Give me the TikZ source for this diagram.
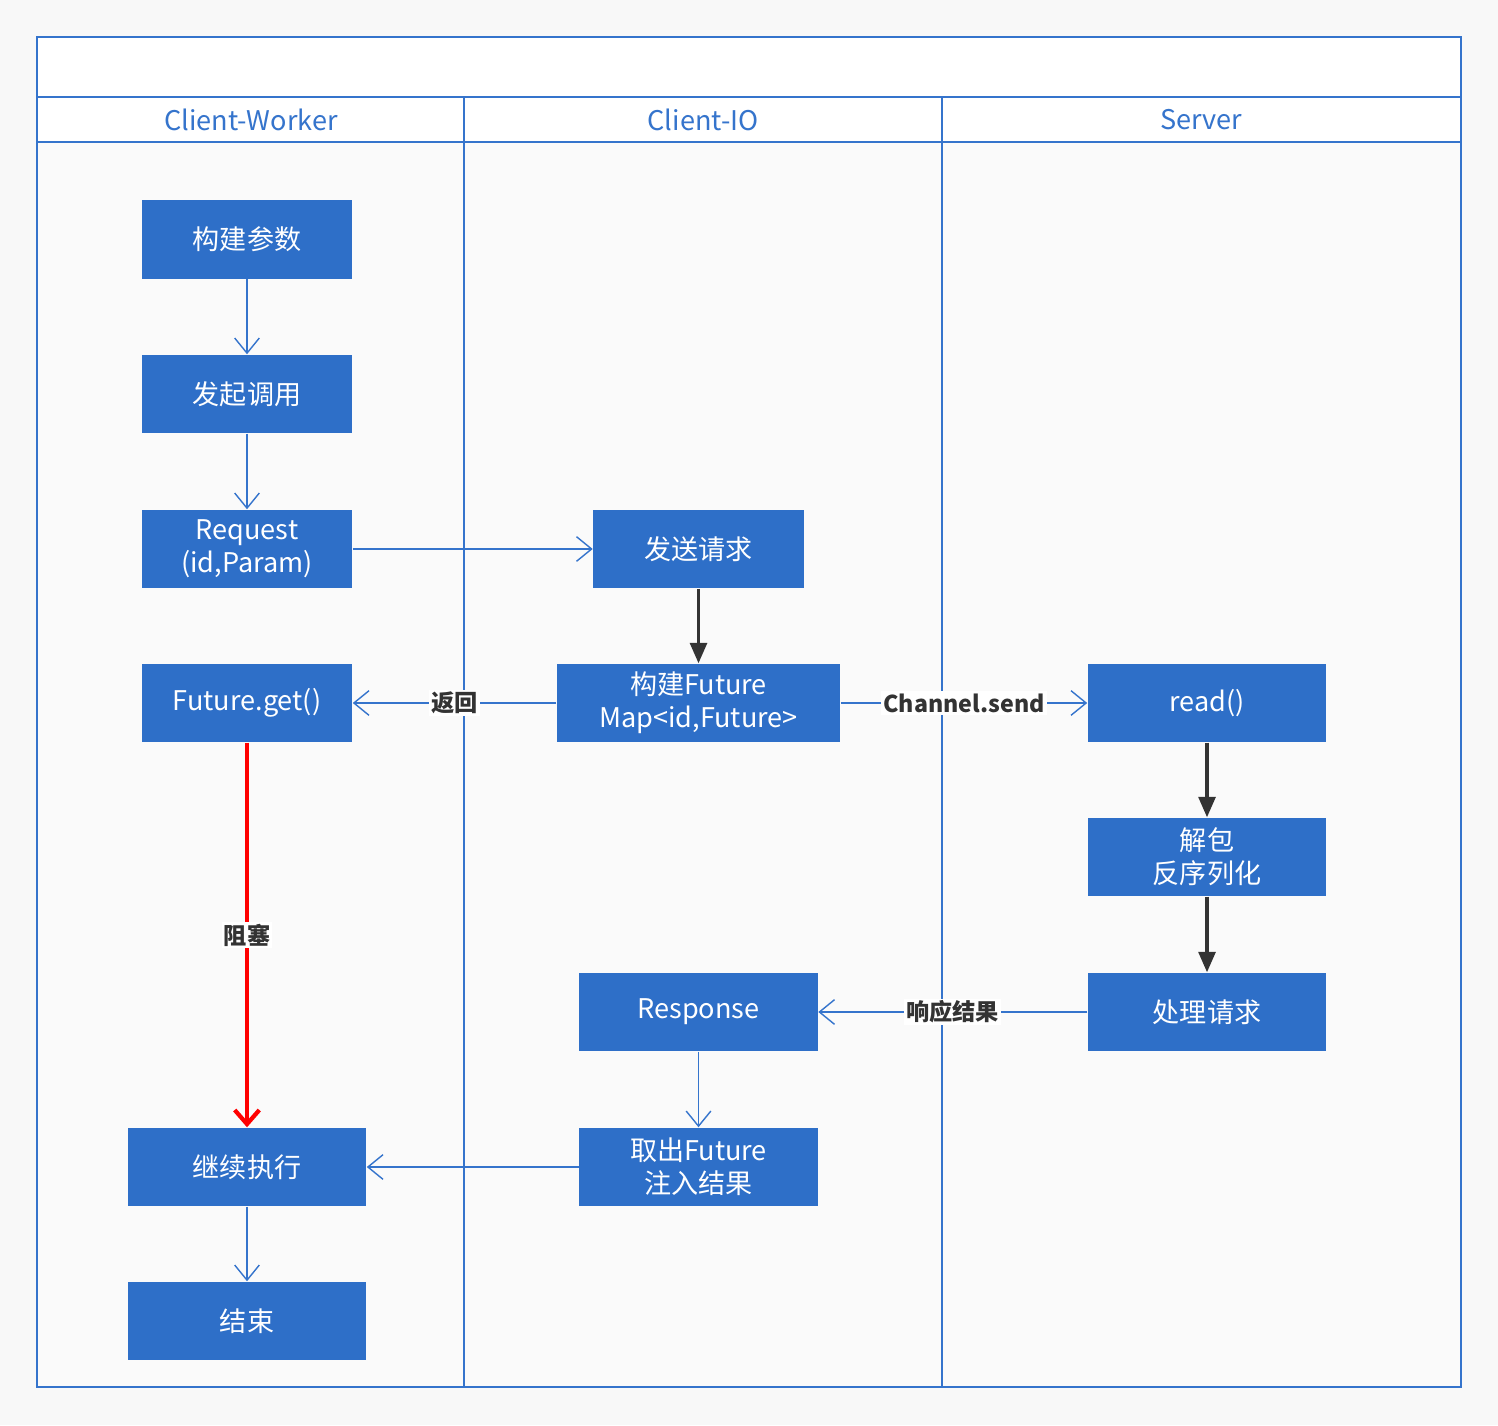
\documentclass[tikz,border=0pt]{standalone}
\usepackage{fontspec}
\setmainfont{Noto Sans CJK SC}
\usetikzlibrary{arrows.meta}
\definecolor{laneBlue}{HTML}{3574CC}
\definecolor{boxBlue}{HTML}{2E6FC8}
\definecolor{pageGray}{HTML}{F8F8F8}
\definecolor{laneGray}{HTML}{FAFAFA}
\definecolor{darkArrow}{HTML}{333333}
\definecolor{blockRed}{HTML}{FF0000}

\begin{document}
\begin{tikzpicture}[x=0.01cm, y=-0.01cm,
  box/.style={fill=boxBlue, text=white, minimum width=2.1cm, minimum height=0.78cm,
    inner sep=0pt, align=center, font=\fontsize{7.7}{9.4}\selectfont},
  wbox/.style={box, minimum width=2.38cm},
  lane/.style={draw=laneBlue, line width=0.45pt},
  head/.style={text=laneBlue, font=\fontsize{7.7}{9.4}\selectfont},
  arr/.style={draw=laneBlue, line width=0.4pt, -{Straight Barb[length=4.3pt, width=7pt]}},
  darr/.style={draw=darkArrow, line width=0.9pt, -{Triangle[length=5.8pt, width=4.8pt]}},
  redarr/.style={draw=blockRed, line width=1.2pt, -{Straight Barb[length=4pt, width=7pt]}},
  lbl/.style={fill=white, text=darkArrow, inner sep=0.6pt, font=\fontsize{6.6}{7.5}\selectfont\bfseries}
]
% page and lanes
\useasboundingbox (0,0) rectangle (1498,1425);
\fill[pageGray] (0,0) rectangle (1498,1425);
\fill[white] (37,37) rectangle (1461,142);
\fill[laneGray] (37,142) rectangle (1461,1387);
\draw[lane] (37,37) rectangle (1461,1387);
\draw[lane] (37,97) -- (1461,97);
\draw[lane] (37,142) -- (1461,142);
\draw[lane] (464,97) -- (464,1387);
\draw[lane] (942,97) -- (942,1387);

\node[head] (hworker) at (251,120) {Client-Worker};
\node[head] (hio) at (703,120) {Client-IO};
\node[head] (hserver) at (1201,120) {Server};

% Client-Worker
\node[box] (param) at (247,239.5) {构建参数};
\node[box] (call) at (247,394) {发起调用};
\node[box] (req) at (247,549) {Request\\(id,Param)};
\node[box] (fget) at (247,703) {Future.get()};
\node[wbox] (goon) at (247,1167) {继续执行};
\node[wbox] (done) at (247,1321) {结束};

% Client-IO
\node[box] (send) at (698.5,549) {发送请求};
\node[box, minimum width=2.83cm] (fmap) at (698.5,703) {构建Future\\ Map<id,Future>};
\node[wbox] (resp) at (698.5,1012) {Response};
\node[wbox] (fill) at (698.5,1167) {取出Future\\注入结果};

% Server
\node[wbox] (read) at (1207,703) {read()};
\node[wbox] (unpack) at (1207,857) {解包\\反序列化};
\node[wbox] (handle) at (1207,1012) {处理请求};

\draw[arr] (param) -- (call);
\draw[arr] (call) -- (req);
\draw[arr] (req) -- (send);
\draw[darr] (send) -- (fmap);
\draw[arr] (fmap) -- node[lbl] {返回} (fget);
\draw[arr] (fmap) -- node[lbl] {Channel.send} (read);
\draw[darr] (read) -- (unpack);
\draw[darr] (unpack) -- (handle);
\draw[arr] (handle) -- node[lbl] {响应结果} (resp);
\draw[arr] (resp) -- (fill);
\draw[arr] (fill) -- (goon);
\draw[redarr] (fget) -- node[lbl] {阻塞} (goon);
\draw[arr] (goon) -- (done);
\end{tikzpicture}
\end{document}
